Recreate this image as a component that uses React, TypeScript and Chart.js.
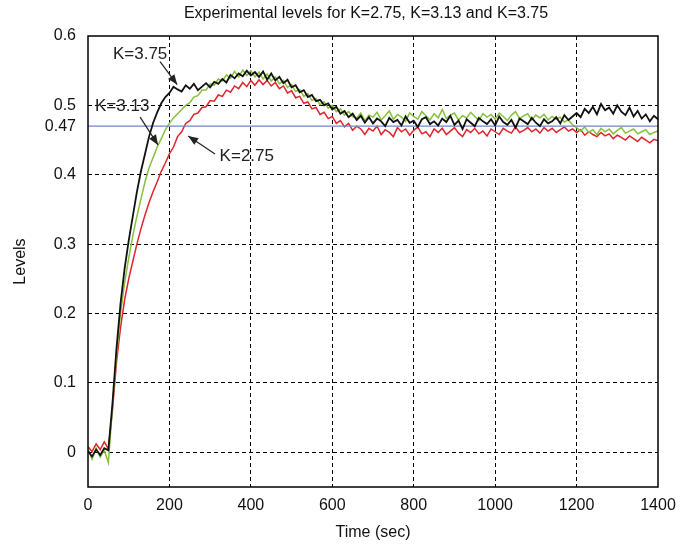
import React, { useEffect, useRef } from "react";
import { Chart, registerables } from "chart.js";

Chart.register(...registerables);

// Time stamps (sec)
const TIME = [
  0, 10, 20, 30, 40, 50, 60, 70, 80, 90,
  100, 110, 120, 130, 140, 150, 160, 170, 180, 190,
  200, 210, 220, 230, 240, 250, 260, 270, 280, 290,
  300, 310, 320, 330, 340, 350, 360, 370, 380, 390,
  400, 410, 420, 430, 440, 450, 460, 470, 480, 490,
  500, 510, 520, 530, 540, 550, 560, 570, 580, 590,
  600, 610, 620, 630, 640, 650, 660, 670, 680, 690,
  700, 710, 720, 730, 740, 750, 760, 770, 780, 790,
  800, 810, 820, 830, 840, 850, 860, 870, 880, 890,
  900, 910, 920, 930, 940, 950, 960, 970, 980, 990,
  1000, 1010, 1020, 1030, 1040, 1050, 1060, 1070, 1080, 1090,
  1100, 1110, 1120, 1130, 1140, 1150, 1160, 1170, 1180, 1190,
  1200, 1210, 1220, 1230, 1240, 1250, 1260, 1270, 1280, 1290,
  1300, 1310, 1320, 1330, 1340, 1350, 1360, 1370, 1380, 1390,
  1400,
];

// K = 3.75 (black)
const LEVEL_K375 = [
  0.002, -0.006, 0.004, -0.004, 0.006, 0.003, 0.070, 0.150, 0.215, 0.265,
  0.305, 0.340, 0.375, 0.405, 0.430, 0.455, 0.475, 0.490, 0.503, 0.512,
  0.518, 0.527, 0.523, 0.520, 0.529, 0.524, 0.531, 0.522, 0.527, 0.532,
  0.526, 0.534, 0.531, 0.538, 0.533, 0.544, 0.539, 0.546, 0.542, 0.550,
  0.543, 0.548, 0.541, 0.549, 0.537, 0.546, 0.536, 0.541, 0.532, 0.537,
  0.526, 0.529, 0.519, 0.522, 0.512, 0.515, 0.506, 0.508, 0.500, 0.503,
  0.494, 0.498, 0.488, 0.492, 0.483, 0.488, 0.479, 0.485, 0.475, 0.483,
  0.474, 0.481, 0.477, 0.470, 0.482, 0.476, 0.479, 0.471, 0.484, 0.475,
  0.478, 0.469, 0.480, 0.483, 0.473, 0.477, 0.471, 0.481, 0.476, 0.485,
  0.472, 0.478, 0.466, 0.480, 0.475, 0.470, 0.482, 0.477, 0.473, 0.480,
  0.471, 0.484, 0.476, 0.472, 0.479, 0.468, 0.481, 0.477, 0.473, 0.482,
  0.475, 0.470, 0.480, 0.474, 0.477, 0.483, 0.474, 0.486, 0.479, 0.484,
  0.489, 0.483, 0.495, 0.489, 0.498, 0.487, 0.502, 0.493, 0.497, 0.488,
  0.500, 0.491, 0.486, 0.497, 0.484, 0.492, 0.481, 0.487, 0.477, 0.485,
  0.480,
];

// K = 3.13 (green)
const LEVEL_K313 = [
  0.004, -0.010, 0.006, -0.007, 0.003, -0.015, 0.065, 0.140, 0.200, 0.245,
  0.280, 0.312, 0.340, 0.365, 0.390, 0.410, 0.425, 0.440, 0.452, 0.465,
  0.474, 0.482, 0.488, 0.494, 0.500, 0.504, 0.512, 0.514, 0.522, 0.522,
  0.531, 0.529, 0.538, 0.535, 0.544, 0.539, 0.549, 0.541, 0.551, 0.543,
  0.550, 0.541, 0.548, 0.538, 0.545, 0.535, 0.541, 0.531, 0.536, 0.526,
  0.530, 0.520, 0.523, 0.513, 0.517, 0.507, 0.510, 0.501, 0.505, 0.496,
  0.500, 0.491, 0.495, 0.486, 0.491, 0.484, 0.482, 0.489, 0.478, 0.486,
  0.483, 0.490, 0.479, 0.485, 0.492, 0.480, 0.487, 0.483, 0.477, 0.489,
  0.484, 0.480, 0.491, 0.485, 0.479, 0.488, 0.482, 0.494, 0.481, 0.486,
  0.489, 0.479, 0.485, 0.482, 0.490, 0.484, 0.478, 0.488, 0.483, 0.487,
  0.480, 0.489, 0.484, 0.478, 0.486, 0.491, 0.481, 0.485, 0.488, 0.479,
  0.486, 0.482, 0.487, 0.479, 0.484, 0.480, 0.483, 0.476, 0.479, 0.472,
  0.468, 0.463, 0.469, 0.461, 0.465, 0.458, 0.467, 0.462, 0.466, 0.459,
  0.464, 0.468, 0.460, 0.463, 0.466, 0.459, 0.462, 0.465, 0.458, 0.461,
  0.463,
];

// K = 2.75 (red)
const LEVEL_K275 = [
  0.008, 0.001, 0.012, 0.004, 0.015, 0.005, 0.060, 0.130, 0.180, 0.220,
  0.250, 0.275, 0.300, 0.322, 0.342, 0.360, 0.376, 0.390, 0.405, 0.417,
  0.430, 0.440, 0.455, 0.462, 0.474, 0.478, 0.487, 0.489, 0.497, 0.498,
  0.507, 0.506, 0.515, 0.513, 0.522, 0.519, 0.528, 0.524, 0.533, 0.527,
  0.536, 0.529, 0.537, 0.530, 0.536, 0.528, 0.533, 0.524, 0.528, 0.518,
  0.521, 0.511, 0.513, 0.503, 0.505, 0.495, 0.497, 0.487, 0.490, 0.481,
  0.484, 0.474, 0.478, 0.469, 0.474, 0.464, 0.470, 0.466, 0.458, 0.467,
  0.463, 0.470, 0.458, 0.465, 0.461, 0.455, 0.468, 0.462, 0.466, 0.457,
  0.464, 0.469, 0.459, 0.462, 0.455, 0.466, 0.461, 0.467, 0.458, 0.463,
  0.468, 0.460, 0.455, 0.465, 0.461, 0.467, 0.459, 0.463, 0.456, 0.466,
  0.462, 0.458, 0.467, 0.463, 0.460, 0.469, 0.461, 0.464, 0.468, 0.462,
  0.466, 0.460, 0.468, 0.463, 0.467, 0.461, 0.465, 0.469, 0.463, 0.466,
  0.461, 0.465, 0.457, 0.462, 0.458, 0.455, 0.461, 0.456, 0.459, 0.452,
  0.457, 0.454, 0.450, 0.456, 0.452, 0.448, 0.454, 0.450, 0.446, 0.451,
  0.449,
];

const REF_LEVEL = 0.47;

const X_TICKS = [0, 200, 400, 600, 800, 1000, 1200, 1400];
const X_TICK_LABELS = ["0", "200", "400", "600", "800", "1000", "1200", "1400"];
const Y_TICKS = [0, 0.1, 0.2, 0.3, 0.4, 0.47, 0.5, 0.6];
const Y_TICK_LABELS = ["0", "0.1", "0.2", "0.3", "0.4", "0.47", "0.5", "0.6"];

const TITLE = "Experimental levels for K=2.75, K=3.13 and K=3.75";

// Callout labels: text centre and arrow (data units)
const CALLOUT_TEXT = ["K=3.75", "K=3.13", "K=2.75"];
const CALLOUT_POS = [[128, 0.573], [84, 0.499], [390, 0.426]];
const CALLOUT_FROM = [[177, 0.563], [128, 0.483], [312, 0.43]];
const CALLOUT_TO = [[219, 0.53], [172, 0.443], [246, 0.456]];

const FONT = '"Liberation Sans", Arial, Helvetica, sans-serif';

const toPoints = (ys: number[]) => TIME.map((t, i) => ({ x: t, y: ys[i] }));

const framePlugin = {
  id: "frame",
  afterDraw(chart: any) {
    const { ctx, chartArea: a, scales } = chart;
    const xs = scales.x;
    const ys = scales.y;
    ctx.save();
    // title centred over the axes
    ctx.fillStyle = "#111";
    ctx.font = `16px ${FONT}`;
    ctx.textAlign = "center";
    ctx.textBaseline = "middle";
    ctx.fillText(TITLE, (a.left + a.right) / 2 - 7, 14);
    // callouts
    ctx.fillStyle = "#222";
    ctx.strokeStyle = "#222";
    ctx.font = `17px ${FONT}`;
    CALLOUT_TEXT.forEach((txt, i) => {
      const px = xs.getPixelForValue(CALLOUT_POS[i][0]);
      const py = ys.getPixelForValue(CALLOUT_POS[i][1]);
      ctx.fillText(txt, px, py);
      const x1 = xs.getPixelForValue(CALLOUT_FROM[i][0]);
      const y1 = ys.getPixelForValue(CALLOUT_FROM[i][1]);
      const x2 = xs.getPixelForValue(CALLOUT_TO[i][0]);
      const y2 = ys.getPixelForValue(CALLOUT_TO[i][1]);
      ctx.lineWidth = 1.2;
      ctx.beginPath();
      ctx.moveTo(x1, y1);
      ctx.lineTo(x2, y2);
      ctx.stroke();
      const ang = Math.atan2(y2 - y1, x2 - x1);
      const L = 10;
      const W = 4;
      ctx.beginPath();
      ctx.moveTo(x2, y2);
      ctx.lineTo(x2 - L * Math.cos(ang) + W * Math.sin(ang), y2 - L * Math.sin(ang) - W * Math.cos(ang));
      ctx.lineTo(x2 - L * Math.cos(ang) - W * Math.sin(ang), y2 - L * Math.sin(ang) + W * Math.cos(ang));
      ctx.closePath();
      ctx.fill();
    });
    // axes box
    ctx.strokeStyle = "#000";
    ctx.lineWidth = 1.5;
    ctx.strokeRect(a.left, a.top, a.right - a.left, a.bottom - a.top);
    ctx.restore();
  },
};

export default function App() {
  const ref = useRef<HTMLCanvasElement | null>(null);

  useEffect(() => {
    if (!ref.current) return;
    const chart = new Chart(ref.current, {
      type: "line",
      data: {
        datasets: [
          {
            label: "K=3.75",
            data: toPoints(LEVEL_K375),
            borderColor: "#111111",
            borderWidth: 1.8,
            pointRadius: 0,
            tension: 0,
          },
          {
            label: "0.47",
            data: [
              { x: TIME[0], y: REF_LEVEL },
              { x: TIME[TIME.length - 1], y: REF_LEVEL },
            ],
            borderColor: "#6f86c9",
            borderWidth: 1.2,
            pointRadius: 0,
          },
          {
            label: "K=3.13",
            data: toPoints(LEVEL_K313),
            borderColor: "#86c13a",
            borderWidth: 1.5,
            pointRadius: 0,
            tension: 0,
          },
          {
            label: "K=2.75",
            data: toPoints(LEVEL_K275),
            borderColor: "#e0242b",
            borderWidth: 1.5,
            pointRadius: 0,
            tension: 0,
          },
        ],
      },
      options: {
        animation: false,
        responsive: false,
        devicePixelRatio: 1,
        layout: { padding: { left: 0, right: 34, top: 36, bottom: 0 } },
        plugins: {
          legend: { display: false },
          tooltip: { enabled: false },
          title: { display: false },
        },
        scales: {
          x: {
            type: "linear",
            min: 0,
            max: 1400,
            afterBuildTicks: (s: any) => {
              s.ticks = X_TICKS.map((v) => ({ value: v }));
            },
            afterFit: (s: any) => {
              s.height = 62;
            },
            ticks: {
              color: "#111",
              font: { family: FONT, size: 16 },
              padding: 9,
              maxRotation: 0,
              autoSkip: false,
              callback: (v: any) => {
                const i = X_TICKS.indexOf(Number(v));
                return i >= 0 ? X_TICK_LABELS[i] : "";
              },
            },
            grid: {
              color: (c: any) =>
                c.tick && (c.tick.value === 0 || c.tick.value === 1400) ? "rgba(0,0,0,0)" : "#000",
              lineWidth: 1,
              drawTicks: false,
            },
            border: { display: false, dash: [4, 3] },
            title: {
              display: true,
              text: "Time (sec)",
              color: "#111",
              font: { family: FONT, size: 16 },
              padding: { top: 0, bottom: 7 },
            },
          },
          y: {
            type: "linear",
            min: -0.05,
            max: 0.6,
            afterBuildTicks: (s: any) => {
              s.ticks = Y_TICKS.map((v) => ({ value: v }));
            },
            afterFit: (s: any) => {
              s.width = 88;
            },
            ticks: {
              color: "#111",
              font: { family: FONT, size: 16 },
              padding: 12,
              autoSkip: false,
              callback: (v: any) => {
                const i = Y_TICKS.indexOf(Number(v));
                return i >= 0 ? Y_TICK_LABELS[i] : "";
              },
            },
            grid: {
              color: (c: any) =>
                c.tick && (c.tick.value === REF_LEVEL || c.tick.value === 0.6) ? "rgba(0,0,0,0)" : "#000",
              lineWidth: 1,
              drawTicks: false,
            },
            border: { display: false, dash: [4, 3] },
            title: {
              display: true,
              text: "Levels",
              color: "#111",
              font: { family: FONT, size: 16 },
              padding: { top: 11, bottom: 0 },
            },
          },
        },
      },
      plugins: [framePlugin],
    } as any);
    return () => chart.destroy();
  }, []);

  return (
    <div style={{ position: "fixed", left: 0, top: 0, width: 692, height: 549, background: "#fff" }}>
      <canvas ref={ref} width={692} height={549} />
    </div>
  );
}
